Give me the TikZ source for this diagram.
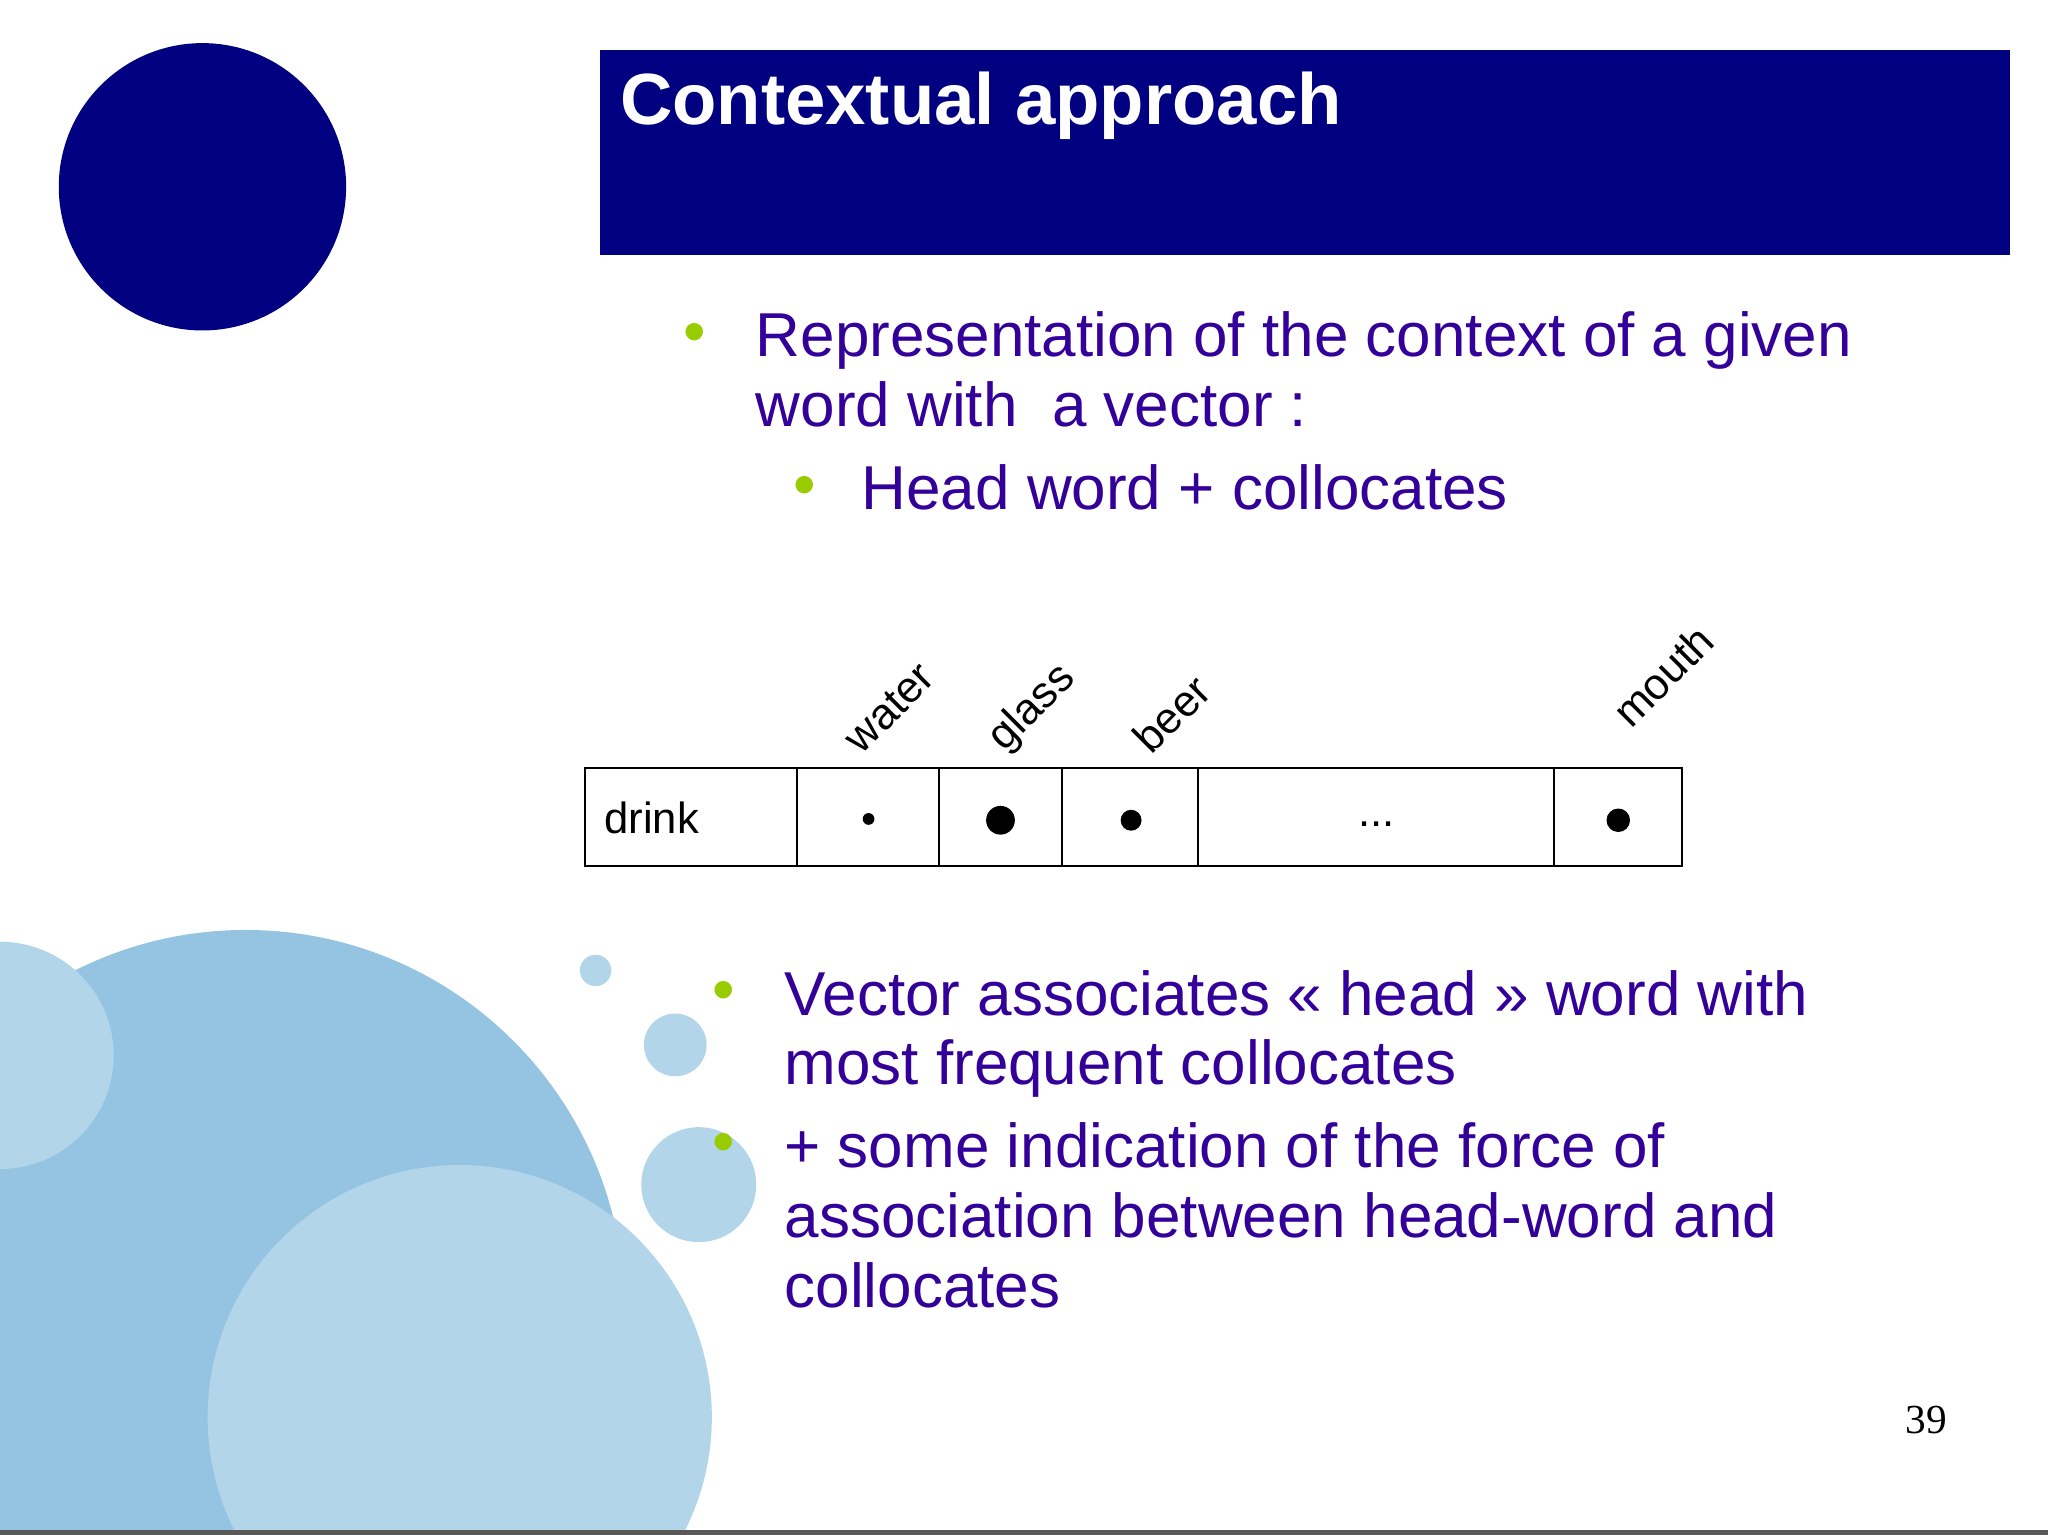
\documentclass[tikz,border=0pt]{standalone}
\usepackage{fontspec}
\setmainfont{Liberation Sans}
\newfontfamily\serifnum{Liberation Serif}
\definecolor{navy}{HTML}{000080}
\definecolor{txt}{HTML}{330099}
\definecolor{bul}{HTML}{99CC00}
\definecolor{blueA}{HTML}{95C4E2}
\definecolor{blueB}{HTML}{B3D5EA}
\tikzset{body/.style={anchor=north west,text=txt,font=\fontsize{13.5}{15.2}\selectfont,align=left,inner sep=0},
bullet/.style={text=bul,font=\fontsize{14}{15}\selectfont,inner sep=0},
lab/.style={rotate=45,anchor=south west,font=\fontsize{9.5}{11}\selectfont,inner sep=0}}
\begin{document}
\begin{tikzpicture}[x=0.01cm,y=-0.01cm]
\useasboundingbox (0,0) rectangle (1568,1175);
\fill[white] (0,0) rectangle (1568,1175);
\begin{scope}
\clip (0,0) rectangle (1568,1173);
\fill[blueA] (188,1002) circle (290);
\fill[blueB] (352,1085) circle (193);
\fill[blueB] (0,808) circle (87);
\end{scope}
\fill[blueB] (456,743) circle (12);
\fill[blueB] (517,800) circle (24);
\fill[blueB] (535,907) circle (44);
\draw[gray!70!black,line width=1.2pt] (0,1173.5) -- (1568,1173.5);
\fill[navy] (155,143) circle (110);
\fill[navy] (459,38) rectangle (1539,195);
\node[anchor=north west,text=white,font=\fontsize{15.8}{19}\bfseries\selectfont,inner sep=0] (title) at (474,54) {Contextual approach};
\node[bullet] (b1) at (532,259) {•};
\node[body] (t1) at (578,238) {Representation of the context of a given\\word with\ \ a vector :};
\node[bullet] (b2) at (616,376) {•};
\node[body] (t2) at (659,355) {Head word + collocates};
\node[bullet] (b3) at (554,763) {•};
\node[body] (t3) at (600,742) {Vector associates « head » word with\\most frequent collocates};
\node[bullet] (b4) at (554,879) {•};
\node[body] (t4) at (600,859) {+ some indication of the force of\\association between head-word and\\collocates};
% table
\draw[black,line width=0.5pt] (448,588) rectangle (1288,663);
\foreach \x in {610,719,813,917,1190} \draw[black,line width=0.5pt] (\x,588) -- (\x,663);
\node[anchor=west,font=\fontsize{9.5}{11}\selectfont,inner sep=0] (drink) at (462,626) {drink};
\node[font=\fontsize{9.5}{11}\selectfont] (dots) at (1054,631) {...};
\fill (665,627) circle (4.5);
\fill (766,628) circle (11);
\fill (866,628) circle (8);
\fill (1239,628) circle (9);
\node[lab] (water) at (660,580) {water};
\node[lab] (glass) at (774,582) {glass};
\node[lab] (beer) at (882,580) {beer};
\node[lab] (mouth) at (1249,560) {mouth};
\node[font=\serifnum\fontsize{9}{10}\selectfont] (pg) at (1475,1087) {39};
\end{tikzpicture}
\end{document}
